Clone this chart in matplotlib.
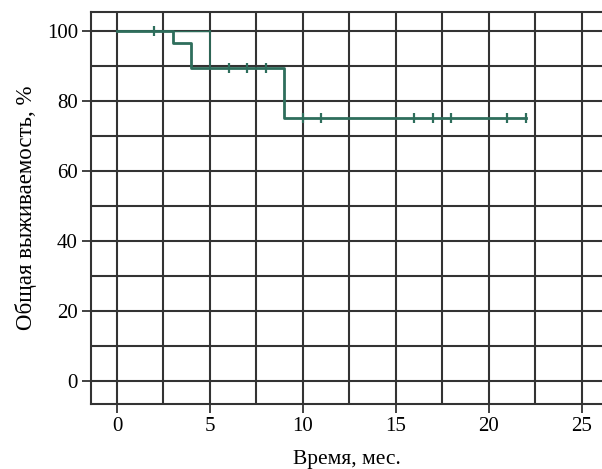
import numpy as np
import matplotlib
matplotlib.use("Agg")
import matplotlib.pyplot as plt

# Kaplan-Meier step data (months, % survival)
step_times = [0, 3, 4, 9, 22]
step_surv = [100, 96.4, 89.3, 75.0, 75.0]

# censored observations
censor_times = [2, 6, 7, 8, 10, 11, 16, 17, 18, 21, 22]
censor_surv = [100, 89.3, 89.3, 89.3, 75.0, 75.0, 75.0, 75.0, 75.0, 75.0, 75.0]

# faint second segment seen at 5 months
extra_times = [3, 5]
extra_surv = [100, 89.3]

xticks = [0, 5, 10, 15, 20, 25]
yticks = [0, 20, 40, 60, 80, 100]

plt.rcParams['font.family'] = ['Liberation Serif', 'DejaVu Serif']

fig = plt.figure(figsize=(6.02, 4.69), dpi=100)
ax = fig.add_axes([91/602, 65/469, 511/602, 392/469])

green = '#2e6e5c'
grid_c = '#333333'

ax.set_xticks(xticks)
ax.set_yticks(yticks)
ax.set_xticks(np.arange(0, 27.5, 2.5), minor=True)
ax.set_yticks(np.arange(10, 110, 10), minor=True)
ax.set_xlim(-1.4, 26.1)
ax.set_ylim(-6.6, 105.4)
ax.grid(True, which='both', color=grid_c, linewidth=1.5)
ax.set_axisbelow(True)
ax.tick_params(which='minor', length=0)
ax.tick_params(which='major', length=6.5, width=1.3, color=grid_c, labelsize=15, pad=3)

for s in ax.spines.values():
    s.set_color(grid_c)
    s.set_linewidth(1.5)
ax.spines['right'].set_visible(False)

ax.step(extra_times, [extra_surv[0], extra_surv[0]], where='post', color=green, linewidth=1.0)
ax.plot([extra_times[1], extra_times[1]], extra_surv, color=green, linewidth=1.2)
ax.step(step_times, step_surv, where='post', color=green, linewidth=2.0, zorder=3)
ax.plot(censor_times, censor_surv, linestyle='none', marker='|', markersize=7,
        markeredgewidth=1.6, color=green, zorder=4)

ax.set_xlabel('Время, мес.', fontsize=15.5, labelpad=10)
ax.set_ylabel('Общая выживаемость, %', fontsize=16.5, labelpad=7)

fig.savefig('out.png', dpi=100)
